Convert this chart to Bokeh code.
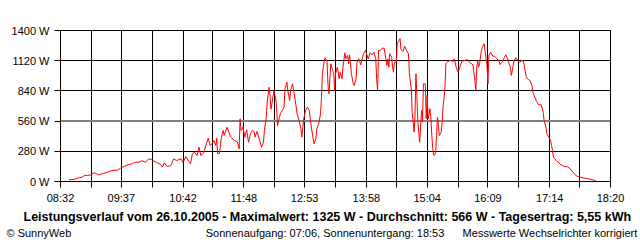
from bokeh.plotting import figure
from bokeh.models import Range1d, FixedTicker, Span, Title
from bokeh.embed import file_html
from bokeh.resources import INLINE

times = ["08:41","08:46","08:52","08:55","08:58","09:01","09:04","09:08","09:13","09:17","09:22","09:27","09:33","09:36","09:42","09:45","09:49","09:52","09:56","09:59","10:03","10:06","10:09","10:12","10:15","10:19","10:21","10:23","10:26","10:30","10:33","10:36","10:41","10:43","10:46","10:49","10:51","10:53","10:55","10:58","11:00","11:02","11:05","11:08","11:10","11:12","11:14","11:16","11:18","11:19","11:20","11:22","11:24","11:26","11:27","11:30","11:32","11:34","11:38","11:41","11:43","11:44","11:45","11:47","11:49","11:51","11:53","11:55","11:57","11:59","12:00","12:02","12:04","12:07","12:09","12:10","12:12","12:13","12:15","12:16","12:17","12:18","12:20","12:22","12:23","12:24","12:26","12:27","12:29","12:31","12:32","12:34","12:35","12:37","12:38","12:40","12:41","12:43","12:45","12:47","12:49","12:50","12:52","12:54","12:56","12:58","12:59","13:01","13:03","13:05","13:06","13:08","13:10","13:11","13:12","13:14","13:15","13:17","13:18","13:19","13:21","13:23","13:24","13:25","13:26","13:28","13:30","13:31","13:33","13:34","13:36","13:37","13:39","13:40","13:41","13:43","13:45","13:46","13:48","13:49","13:51","13:53","13:55","13:56","13:58","14:01","14:03","14:05","14:07","14:09","14:10","14:11","14:12","14:14","14:16","14:18","14:21","14:22","14:23","14:24","14:26","14:27","14:28","14:29","14:31","14:32","14:34","14:35","14:36","14:38","14:40","14:42","14:44","14:45","14:47","14:48","14:50","14:51","14:52","14:53","14:54","14:56","14:58","14:59","15:00","15:02","15:03","15:04","15:05","15:07","15:08","15:09","15:10","15:11","15:13","15:14","15:15","15:16","15:17","15:19","15:20","15:21","15:23","15:24","15:26","15:29","15:32","15:33","15:35","15:37","15:39","15:41","15:44","15:47","15:50","15:53","15:55","15:56","15:57","15:58","15:59","16:00","16:02","16:03","16:05","16:06","16:07","16:08","16:09","16:10","16:12","16:14","16:16","16:18","16:21","16:22","16:24","16:26","16:28","16:30","16:31","16:33","16:34","16:36","16:37","16:39","16:41","16:43","16:45","16:47","16:48","16:50","16:52","16:54","16:56","16:57","16:59","17:01","17:03","17:06","17:08","17:09","17:11","17:12","17:14","17:16","17:17","17:18","17:19","17:22","17:24","17:27","17:30","17:34","17:37","17:39","17:42","17:44","17:48","17:52","17:56","17:59","18:04"]

watts = [16,19,34,40,58,56,62,81,62,74,86,102,105,123,148,158,164,179,179,192,179,207,207,188,176,158,133,173,139,148,210,195,210,176,232,188,164,257,272,241,318,241,266,350,401,334,350,380,334,401,257,262,411,473,426,503,457,411,380,371,303,581,473,503,411,479,364,442,473,464,411,464,411,318,364,473,596,735,874,797,670,720,834,782,689,519,591,628,658,689,859,921,844,751,844,906,859,751,628,566,489,411,581,658,689,658,581,457,350,396,489,535,628,782,999,1122,1147,1106,890,813,1091,1029,1013,844,999,1060,952,1013,952,1060,1193,1138,1168,1091,1175,999,906,890,952,1106,1138,1082,1152,1184,1215,1138,1193,1175,1199,1138,952,844,1215,1215,1236,1236,1075,1138,1060,1184,1152,1060,1013,1106,1106,1277,1307,1325,1224,1205,1254,1215,1184,999,859,643,457,612,999,797,550,364,658,550,906,906,581,797,581,674,581,426,303,241,257,426,596,519,426,457,550,689,859,1091,1113,1122,1113,1138,1060,1013,1060,1113,1122,1131,1100,1082,936,844,1060,1122,1060,1091,1215,1245,1277,1199,1138,1075,906,1168,1199,1162,1162,1143,1113,1085,1106,1143,1175,1138,1106,1060,983,1075,1122,1147,1122,1106,1122,1113,1060,967,946,936,890,828,782,742,711,711,643,566,503,442,411,380,334,287,225,195,179,155,142,136,118,93,68,49,40,31,25,19,9]

x_tick_labels = ["08:32","09:37","10:42","11:48","12:53","13:58","15:04","16:09","17:14","18:20"]
y_ticks = [0, 280, 560, 840, 1120, 1400]
y_tick_labels = ["0 W", "280 W", "560 W", "840 W", "1120 W", "1400 W"]

title_text = "Leistungsverlauf vom 26.10.2005 - Maximalwert: 1325 W - Durchschnitt: 566 W - Tagesertrag: 5,55 kWh"
copyright_text = "\u00a9 SunnyWeb"
sun_text = "Sonnenaufgang: 07:06, Sonnenuntergang: 18:53"
note_text = "Messwerte Wechselrichter korrigiert"


def to_min(s):
    h, m = s.split(":")
    return int(h) * 60 + int(m)


x = [to_min(t) for t in times]
x0 = to_min(x_tick_labels[0])
x1 = to_min(x_tick_labels[-1])
n = (len(x_tick_labels) - 1) * 2
xt = [round(x0 + (x1 - x0) * k / n) for k in range(n + 1)]
x_over = {xt[k]: (x_tick_labels[k // 2] if k % 2 == 0 else "") for k in range(n + 1)}
y_over = {v: l for v, l in zip(y_ticks, y_tick_labels)}

FONT = "Liberation Sans"
W, H = 640, 240
LEFT, TOP, FW, FH = 60, 30, 550, 151

p = figure(width=W, height=H, output_backend="svg", toolbar_location=None,
           x_range=Range1d(x0, x1), y_range=Range1d(y_ticks[0], y_ticks[-1]),
           min_border_left=LEFT, min_border_right=W - LEFT - FW,
           min_border_top=TOP, min_border_bottom=H - TOP - FH)
p.background_fill_color = "white"
p.border_fill_color = "white"
p.outline_line_color = "black"
p.outline_line_width = 1
p.outline_line_alpha = 1

xticker = FixedTicker(ticks=xt)
yticker = FixedTicker(ticks=y_ticks)
p.xaxis.ticker = xticker
p.yaxis.ticker = yticker
p.xgrid.ticker = xticker
p.ygrid.ticker = yticker
p.xaxis.major_label_overrides = x_over
p.yaxis.major_label_overrides = y_over

for ax in (p.xaxis, p.yaxis):
    ax.major_label_text_font = FONT
    ax.major_label_text_font_size = "11px"
    ax.major_label_text_color = "black"
    ax.major_tick_out = 6
    ax.major_tick_in = 0
    ax.minor_tick_out = 0
    ax.minor_tick_in = 0
    ax.major_tick_line_color = "black"
    ax.axis_line_color = "black"
p.yaxis.major_label_standoff = 5
p.xaxis.major_label_standoff = 4

for g in (p.xgrid, p.ygrid):
    g.grid_line_color = "black"
    g.grid_line_alpha = 1
    g.grid_line_width = 1

mid = Span(location=y_ticks[2], dimension="width", line_color="#808080", line_width=2, level="underlay")
p.add_layout(mid)

p.line(x, watts, line_color="#ff0000", line_width=1)

# footer line 1 (bold summary)
p.add_layout(Title(text=title_text, align="left", offset=23 - LEFT, standoff=2,
                   text_font=FONT, text_font_size="12.5px", text_font_style="bold",
                   text_color="black"), "below")

# footer line 2: three parts on one row, separated by non-breaking spaces
NB = "\u00a0"
footer2 = copyright_text + NB * 44 + sun_text + NB * 6 + note_text
p.add_layout(Title(text=footer2, align="left", offset=6 - LEFT, standoff=0,
                   text_font=FONT, text_font_size="11px", text_font_style="normal",
                   text_color="black"), "below")

open("out.html", "w").write(file_html(p, INLINE))
